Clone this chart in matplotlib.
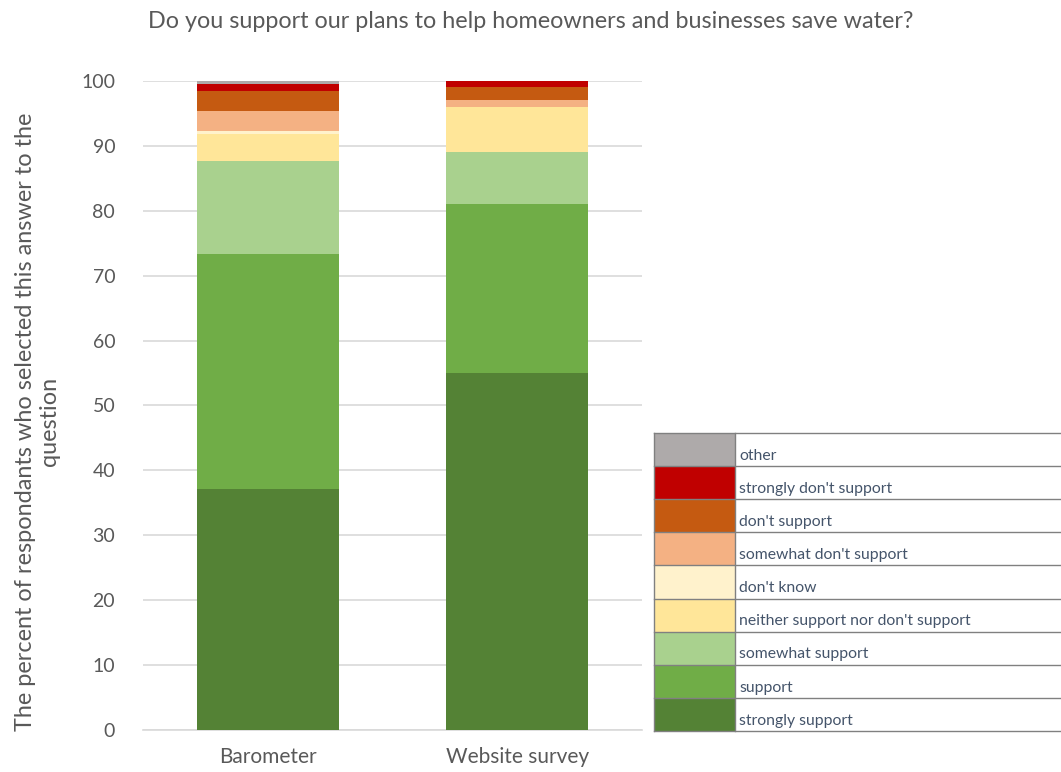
import matplotlib.pyplot as plt
from matplotlib.patches import Rectangle

# survey groups
groups = ["Barometer", "Website survey"]

# answers, bottom of the stack first
answers = ["strongly support", "support", "somewhat support",
           "neither support nor don't support", "don't know",
           "somewhat don't support", "don't support",
           "strongly don't support", "other"]

barometer = [37.1, 36.2, 14.4, 4.1, 0.5, 3.1, 3.0, 1.2, 0.4]
website = [55.0, 26.0, 8.1, 6.9, 0.0, 1.1, 2.0, 0.9, 0.0]

colours = ["#548235", "#70AD47", "#A9D18E", "#FFE699", "#FFF2CC",
           "#F4B183", "#C55A11", "#C00000", "#AEAAAA"]

plt.rcParams['font.family'] = ['Lato', 'DejaVu Sans']

fig = plt.figure(figsize=(10.61, 7.72), dpi=100)
ax = fig.add_axes([0.1348, 0.0544, 0.4703, 0.8407])

# stacked bars
bottoms = [0.0, 0.0]
for i, answer in enumerate(answers):
    vals = [barometer[i], website[i]]
    ax.bar(range(len(groups)), vals, width=0.57, bottom=bottoms,
           color=colours[i], zorder=3)
    bottoms = [b + v for b, v in zip(bottoms, vals)]

ax.set_xlim(-0.5, 1.5)
ax.set_ylim(0, 100)
ax.set_yticks(range(0, 101, 10))
ax.set_xticks(range(len(groups)))
ax.set_xticklabels(groups)
ax.grid(axis='y', color='#D9D9D9', linewidth=1.2, zorder=0)
for side in ['top', 'right', 'left']:
    ax.spines[side].set_visible(False)
ax.spines['bottom'].set_color('#D9D9D9')
ax.spines['bottom'].set_linewidth(1.2)
ax.tick_params(axis='both', length=0, labelcolor='#595959')
ax.tick_params(axis='y', pad=20, labelsize=14)
ax.tick_params(axis='x', pad=12, labelsize=15)
ax.set_ylabel("The percent of respondants who selected this answer to the\nquestion",
              fontsize=16.9, color='#595959', labelpad=15)
ax.yaxis.label.set_y(0.475)

fig.text(0.5, 0.972, "Do you support our plans to help homeowners and businesses save water?",
         ha='center', va='center', fontsize=16.8, color='#595959')

# legend drawn as a table
lax = fig.add_axes([0.6164, 0.0531, 0.3836, 0.386])
lax.set_xlim(0, 1)
lax.set_ylim(0, len(answers))
lax.axis('off')
sw = 81 / 407
for i, answer in enumerate(answers):
    lax.add_patch(Rectangle((0, i), sw, 1, facecolor=colours[i],
                            edgecolor='none'))
    lax.text(sw + 0.01, i + 0.1, answer, fontsize=11.3, color='#44546A',
             ha='left', va='bottom')
for i in range(len(answers) + 1):
    lax.plot([0, 1], [i, i], color='#808080', linewidth=1, clip_on=False)
lax.plot([0, 0], [0, len(answers)], color='#808080', linewidth=1, clip_on=False)
lax.plot([sw, sw], [0, len(answers)], color='#808080', linewidth=1, clip_on=False)

fig.savefig("out.png", dpi=100)
